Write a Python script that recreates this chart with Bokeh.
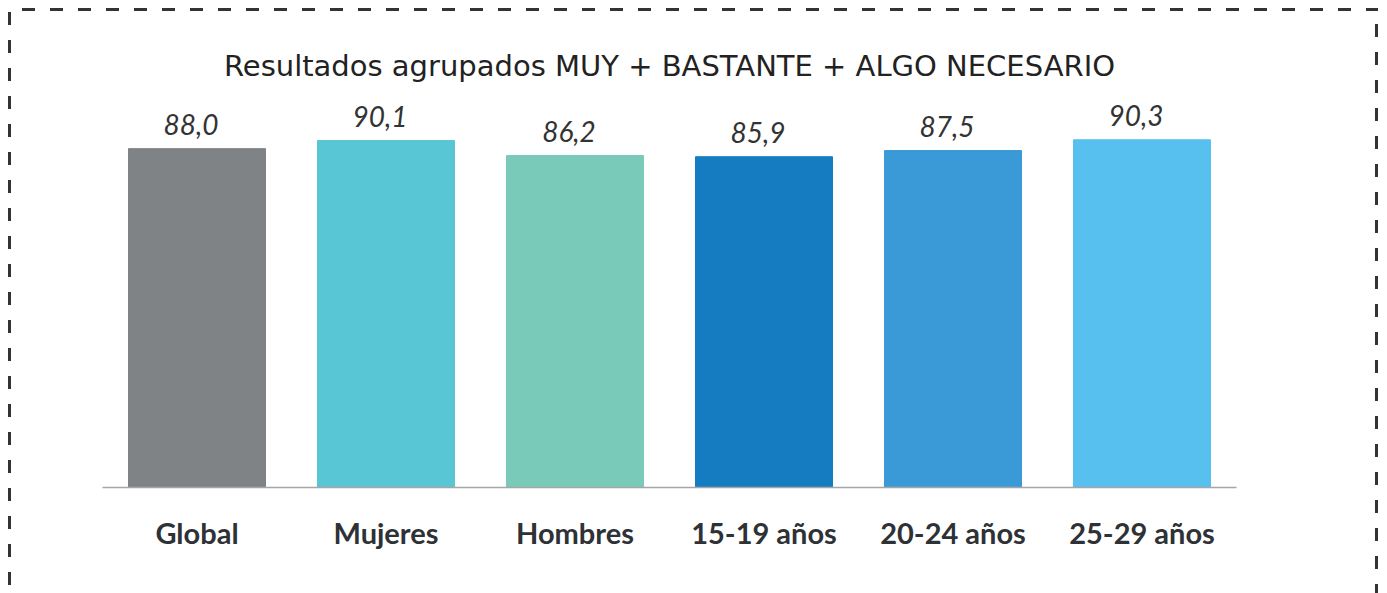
from bokeh.plotting import figure
from bokeh.models import Range1d, Title, ColumnDataSource, LabelSet
from bokeh.core.properties import value
from bokeh.embed import file_html
from bokeh.resources import INLINE

categories = ["Global", "Mujeres", "Hombres", "15-19 años", "20-24 años", "25-29 años"]
values = [88.0, 90.1, 86.2, 85.9, 87.5, 90.3]
labels = ["88,0", "90,1", "86,2", "85,9", "87,5", "90,3"]
colors = ["#808386", "#58c6d5", "#7acab9", "#167cc1", "#3a9ad8", "#57c0ef"]
title_text = "Resultados agrupados MUY + BASTANTE + ALGO NECESARIO"

src = ColumnDataSource(dict(cat=categories, val=values, lab=labels, col=colors))

dash_h = "repeating-linear-gradient(to right, #333333 0px, #333333 13px, rgba(0,0,0,0) 13px, rgba(0,0,0,0) 28px)"
dash_v = "repeating-linear-gradient(to bottom, #333333 0px, #333333 13px, rgba(0,0,0,0) 13px, rgba(0,0,0,0) 28px)"
border_css = {
    "background-image": ", ".join([dash_h, dash_v, dash_v]),
    "background-position": "22px 8px, 8px 12px, 1375px 24px",
    "background-size": "1356px 3px, 3px 620px, 3px 620px",
    "background-repeat": "no-repeat, no-repeat, no-repeat",
}

p = figure(x_range=categories, y_range=Range1d(0, 100.5),
           width=1387, height=593, output_backend="svg", toolbar_location=None,
           min_border_left=102, min_border_right=151, min_border_top=100, min_border_bottom=106,
           styles=border_css)
p.border_fill_color = None
p.background_fill_color = None

p.vbar(x="cat", top="val", width=0.725, color="col", source=src)
lbl = LabelSet(x="cat", y="val", text="lab", source=src, text_align="center",
               text_baseline="alphabetic", y_offset=14, x_offset=-6, text_font=value("Lato"),
               text_font_style=value("italic"), text_font_size=value("28px"),
               text_color=value("#333333"))
p.add_layout(lbl)

t = Title(text=title_text, align="center", text_font="DejaVu Sans", text_font_style="normal",
          text_font_size="29px", text_color="#222222", standoff=35, offset=5)
p.add_layout(t, "above")

p.yaxis.visible = False
p.xgrid.visible = False
p.ygrid.visible = False
p.outline_line_color = None
p.xaxis.axis_line_color = "#a6a6a6"
p.xaxis.axis_line_width = 1.5
p.xaxis.major_tick_line_color = None
p.xaxis.minor_tick_line_color = None
p.xaxis.major_label_text_font = "Lato"
p.xaxis.major_label_text_font_style = "bold"
p.xaxis.major_label_text_font_size = "29px"
p.xaxis.major_label_text_color = "#2e3135"
p.xaxis.major_label_standoff = 21
p.x_range.range_padding = 0

open("out.html", "w").write(file_html(p, INLINE))
